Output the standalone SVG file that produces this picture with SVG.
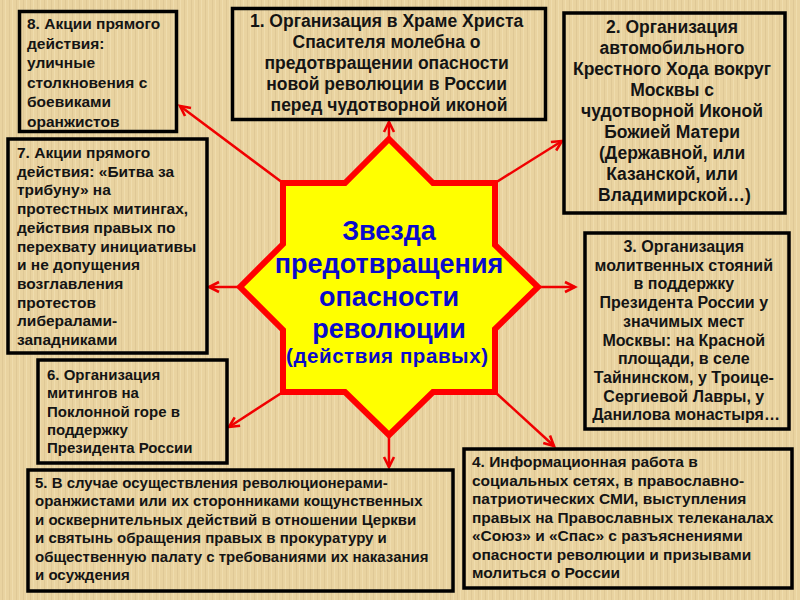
<svg xmlns="http://www.w3.org/2000/svg" width="800" height="600" viewBox="0 0 800 600">
<defs>
<pattern id="paper" width="7" height="600" patternUnits="userSpaceOnUse">
<rect width="7" height="600" fill="#E9D3A0"/>
<rect x="2" width="1" height="600" fill="#D6BE8B" opacity="0.5"/>
<rect x="5" width="1" height="600" fill="#F3E2B5" opacity="0.6"/>
</pattern>
<marker id="arr" markerUnits="userSpaceOnUse" markerWidth="14" markerHeight="14" refX="11" refY="6" orient="auto" viewBox="0 0 14 12">
<path d="M1,1 L11,6 L1,11" fill="none" stroke="#F00000" stroke-width="2.6" stroke-linejoin="miter"/>
</marker>
<style>
.box{fill:none;stroke:#000;stroke-width:3.5}
.t{font-family:"Liberation Sans",Arial,sans-serif;font-weight:bold;fill:#141414}
.c{text-anchor:middle}
.conn line{stroke:#F00000;stroke-width:2.5;marker-end:url(#arr)}
.ctr{font-family:"Liberation Sans",Arial,sans-serif;font-weight:bold;fill:#0A0ACC;text-anchor:middle}
</style>
</defs>
<rect width="800" height="600" fill="url(#paper)"/>

<g id="connectors" class="conn">
<line x1="389" y1="139" x2="389" y2="122"/>
<line x1="495" y1="183" x2="562" y2="141"/>
<line x1="538" y1="287" x2="575" y2="287"/>
<line x1="495" y1="392" x2="554" y2="446"/>
<line x1="389" y1="435" x2="389" y2="467"/>
<line x1="283" y1="392" x2="229" y2="427"/>
<line x1="240" y1="287" x2="209" y2="287"/>
<line x1="283" y1="183" x2="180" y2="106"/>
</g>

<g id="star">
<polygon points="389,139 433,183 495,183 495,245 538,287 495,329 495,392 433,392 389,435 345,392 283,392 283,330 240,287 283,244 283,183 345,183" fill="#FFFF00" stroke="#FF0000" stroke-width="6" stroke-linejoin="miter"/>
<text class="ctr" font-size="27" x="389" y="240">Звезда</text>
<text class="ctr" font-size="27" x="389" y="273">предотвращения</text>
<text class="ctr" font-size="27" x="389" y="306">опасности</text>
<text class="ctr" font-size="27" x="389" y="338">революции</text>
<text class="ctr" font-size="20.5" x="387" y="363" textLength="202" lengthAdjust="spacing">(действия  правых)</text>
</g>

<g id="box1">
<rect class="box" x="232.5" y="8.5" width="313" height="111"/>
<text class="t c" font-size="17.5">
<tspan x="389" y="27">1. Организация в Храме Христа</tspan>
<tspan x="389" y="48">Спасителя молебна о</tspan>
<tspan x="389" y="69">предотвращении опасности</tspan>
<tspan x="389" y="90">новой революции в России</tspan>
<tspan x="389" y="111">перед чудотворной иконой</tspan>
</text>
</g>

<g id="box2">
<rect class="box" x="564" y="13" width="221" height="200"/>
<text class="t c" font-size="17.5">
<tspan x="674.5" y="33">2. Организация</tspan>
<tspan x="674.5" y="54">автомобильного</tspan>
<tspan x="674.5" y="75">Крестного Хода вокруг</tspan>
<tspan x="674.5" y="96">Москвы с</tspan>
<tspan x="674.5" y="117">чудотворной Иконой</tspan>
<tspan x="674.5" y="138">Божией Матери</tspan>
<tspan x="674.5" y="159">(Державной, или</tspan>
<tspan x="674.5" y="180">Казанской, или</tspan>
<tspan x="674.5" y="201">Владимирской…)</tspan>
</text>
</g>

<g id="box3">
<rect class="box" x="585" y="233" width="204" height="196"/>
<text class="t c" font-size="16">
<tspan x="686" y="252">3. Организация</tspan>
<tspan x="686" y="270.7">молитвенных стояний</tspan>
<tspan x="686" y="289.4">в поддержку</tspan>
<tspan x="686" y="308.1">Президента России у</tspan>
<tspan x="686" y="326.8">значимых мест</tspan>
<tspan x="686" y="345.5">Москвы: на Красной</tspan>
<tspan x="686" y="364.2">площади, в селе</tspan>
<tspan x="686" y="382.9">Тайнинском, у Троице-</tspan>
<tspan x="686" y="401.6">Сергиевой Лавры, у</tspan>
<tspan x="686" y="420.3">Данилова монастыря…</tspan>
</text>
</g>

<g id="box4">
<rect class="box" x="464" y="449" width="328" height="139"/>
<text class="t" font-size="15.5">
<tspan x="472" y="467">4. Информационная работа в</tspan>
<tspan x="472" y="485.5">социальных сетях, в православно-</tspan>
<tspan x="472" y="504">патриотических СМИ, выступления</tspan>
<tspan x="472" y="522.5">правых на Православных телеканалах</tspan>
<tspan x="472" y="541">«Союз» и «Спас» с разъяснениями</tspan>
<tspan x="472" y="559.5">опасности революции и призывами</tspan>
<tspan x="472" y="578">молиться о России</tspan>
</text>
</g>

<g id="box5">
<rect class="box" x="28" y="470" width="425" height="121"/>
<text class="t" font-size="15">
<tspan x="35" y="488">5. В случае осуществления революционерами-</tspan>
<tspan x="35" y="506.4">оранжистами или их сторонниками кощунственных</tspan>
<tspan x="35" y="524.8">и осквернительных действий в отношении Церкви</tspan>
<tspan x="35" y="543.2">и святынь обращения правых в прокуратуру и</tspan>
<tspan x="35" y="561.6">общественную палату с требованиями их наказания</tspan>
<tspan x="35" y="580">и осуждения</tspan>
</text>
</g>

<g id="box6">
<rect class="box" x="38" y="360" width="189" height="103"/>
<text class="t" font-size="15">
<tspan x="47" y="380">6. Организация</tspan>
<tspan x="47" y="398.3">митингов на</tspan>
<tspan x="47" y="416.6">Поклонной горе в</tspan>
<tspan x="47" y="434.9">поддержку</tspan>
<tspan x="47" y="453.2">Президента России</tspan>
</text>
</g>

<g id="box7">
<rect class="box" x="8" y="139" width="199" height="214"/>
<text class="t" font-size="15.5">
<tspan x="17" y="158">7. Акции прямого</tspan>
<tspan x="17" y="176.7">действия: «Битва за</tspan>
<tspan x="17" y="195.4">трибуну» на</tspan>
<tspan x="17" y="214.1">протестных митингах,</tspan>
<tspan x="17" y="232.8">действия правых по</tspan>
<tspan x="17" y="251.5">перехвату инициативы</tspan>
<tspan x="17" y="270.2">и не допущения</tspan>
<tspan x="17" y="288.9">возглавления</tspan>
<tspan x="17" y="307.6">протестов</tspan>
<tspan x="17" y="326.3">либералами-</tspan>
<tspan x="17" y="345">западниками</tspan>
</text>
</g>

<g id="box8">
<rect class="box" x="19.5" y="11.5" width="157" height="120"/>
<text class="t" font-size="15.5">
<tspan x="27" y="29">8. Акции прямого</tspan>
<tspan x="27" y="48.5">действия:</tspan>
<tspan x="27" y="68">уличные</tspan>
<tspan x="27" y="87.5">столкновения с</tspan>
<tspan x="27" y="107">боевиками</tspan>
<tspan x="27" y="126.5">оранжистов</tspan>
</text>
</g>
</svg>
